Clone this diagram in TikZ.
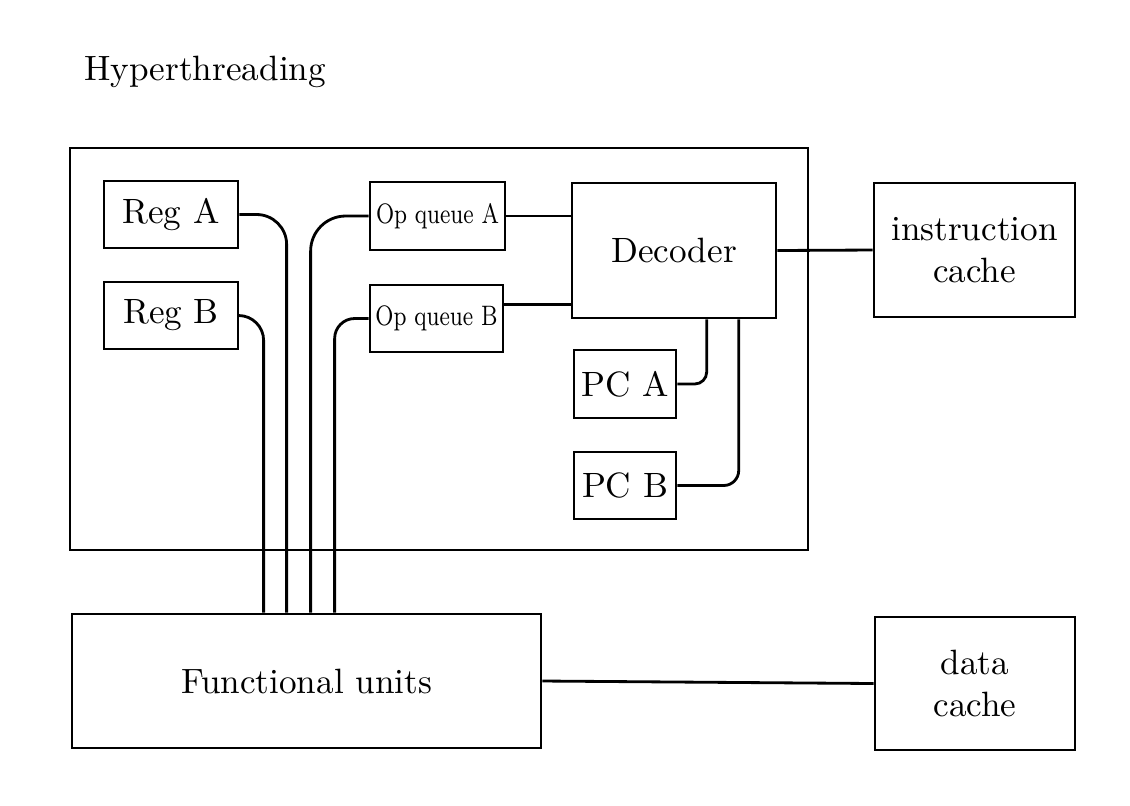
\documentclass[tikz,border=0pt]{standalone}
\usepackage{amsmath, amssymb}
\usepackage{tikz}
\usetikzlibrary{calc}

\begin{document}
\begin{tikzpicture}[x=0.01cm, y=-0.01cm,
    unit/.style={draw, line width=0.7pt, inner sep=0pt},
    narrow/.style={font=\footnotesize},
    wire/.style={line width=0.8pt}]
  \useasboundingbox (0, 0) rectangle (1130, 805);
  \node[anchor=west] (title) at (72, 72) {Hyperthreading};
  \node[unit, minimum width=7.38cm, minimum height=4.02cm] (core) at (439, 349) {};
  \node[unit, minimum width=1.34cm, minimum height=0.67cm] (rega) at (171, 214.5) {Reg A};
  \node[unit, minimum width=1.34cm, minimum height=0.67cm] (regb) at (171, 315.5) {Reg B};
  \node[unit, narrow, minimum width=1.35cm, minimum height=0.68cm] (opa) at (437.5, 216) {\scalebox{0.78}[1]{Op queue A}};
  \node[unit, narrow, minimum width=1.33cm, minimum height=0.67cm] (opb) at (436.5, 318.5) {\scalebox{0.78}[1]{Op queue B}};
  \node[unit, minimum width=2.04cm, minimum height=1.35cm] (dec) at (674, 250.5) {Decoder};
  \node[unit, minimum width=1.02cm, minimum height=0.68cm] (pca) at (625, 384) {PC A};
  \node[unit, minimum width=1.02cm, minimum height=0.67cm] (pcb) at (625, 485.5) {PC B};
  \node[unit, minimum width=2.01cm, minimum height=1.34cm, align=center] (icache) at (974.5, 250) {instruction\\cache};
  \node[unit, minimum width=4.69cm, minimum height=1.34cm] (fu) at (306.5, 681) {Functional units};
  \node[unit, minimum width=2.00cm, minimum height=1.33cm, align=center] (dcache) at (975, 683.5) {data\\cache};
  \draw[wire, rounded corners=0.3cm] (rega.east) -| ($(fu.north west) + (216, 0)$);
  \draw[wire, rounded corners=0.25cm] (regb.east) -| ($(fu.north west) + (193, 0)$);
  \draw[wire, rounded corners=0.35cm] (opa.west) -| ($(fu.north west) + (240, 0)$);
  \draw[wire, rounded corners=0.2cm] (opb.west) -| ($(fu.north west) + (264, 0)$);
  \draw[wire] (opa.east) -- (opa.east -| dec.west);
  \draw[wire] ($(opb.east) + (0, -14)$) -- ($(opb.east -| dec.west) + (0, -14)$);
  \draw[wire, rounded corners=0.12cm] ($(dec.south west) + (136, 0)$) |- (pca.east);
  \draw[wire, rounded corners=0.15cm] ($(dec.south west) + (168, 0)$) |- (pcb.east);
  \draw[wire] (dec.east) -- (icache.west);
  \draw[wire] (fu.east) -- (dcache.west);
\end{tikzpicture}
\end{document}
